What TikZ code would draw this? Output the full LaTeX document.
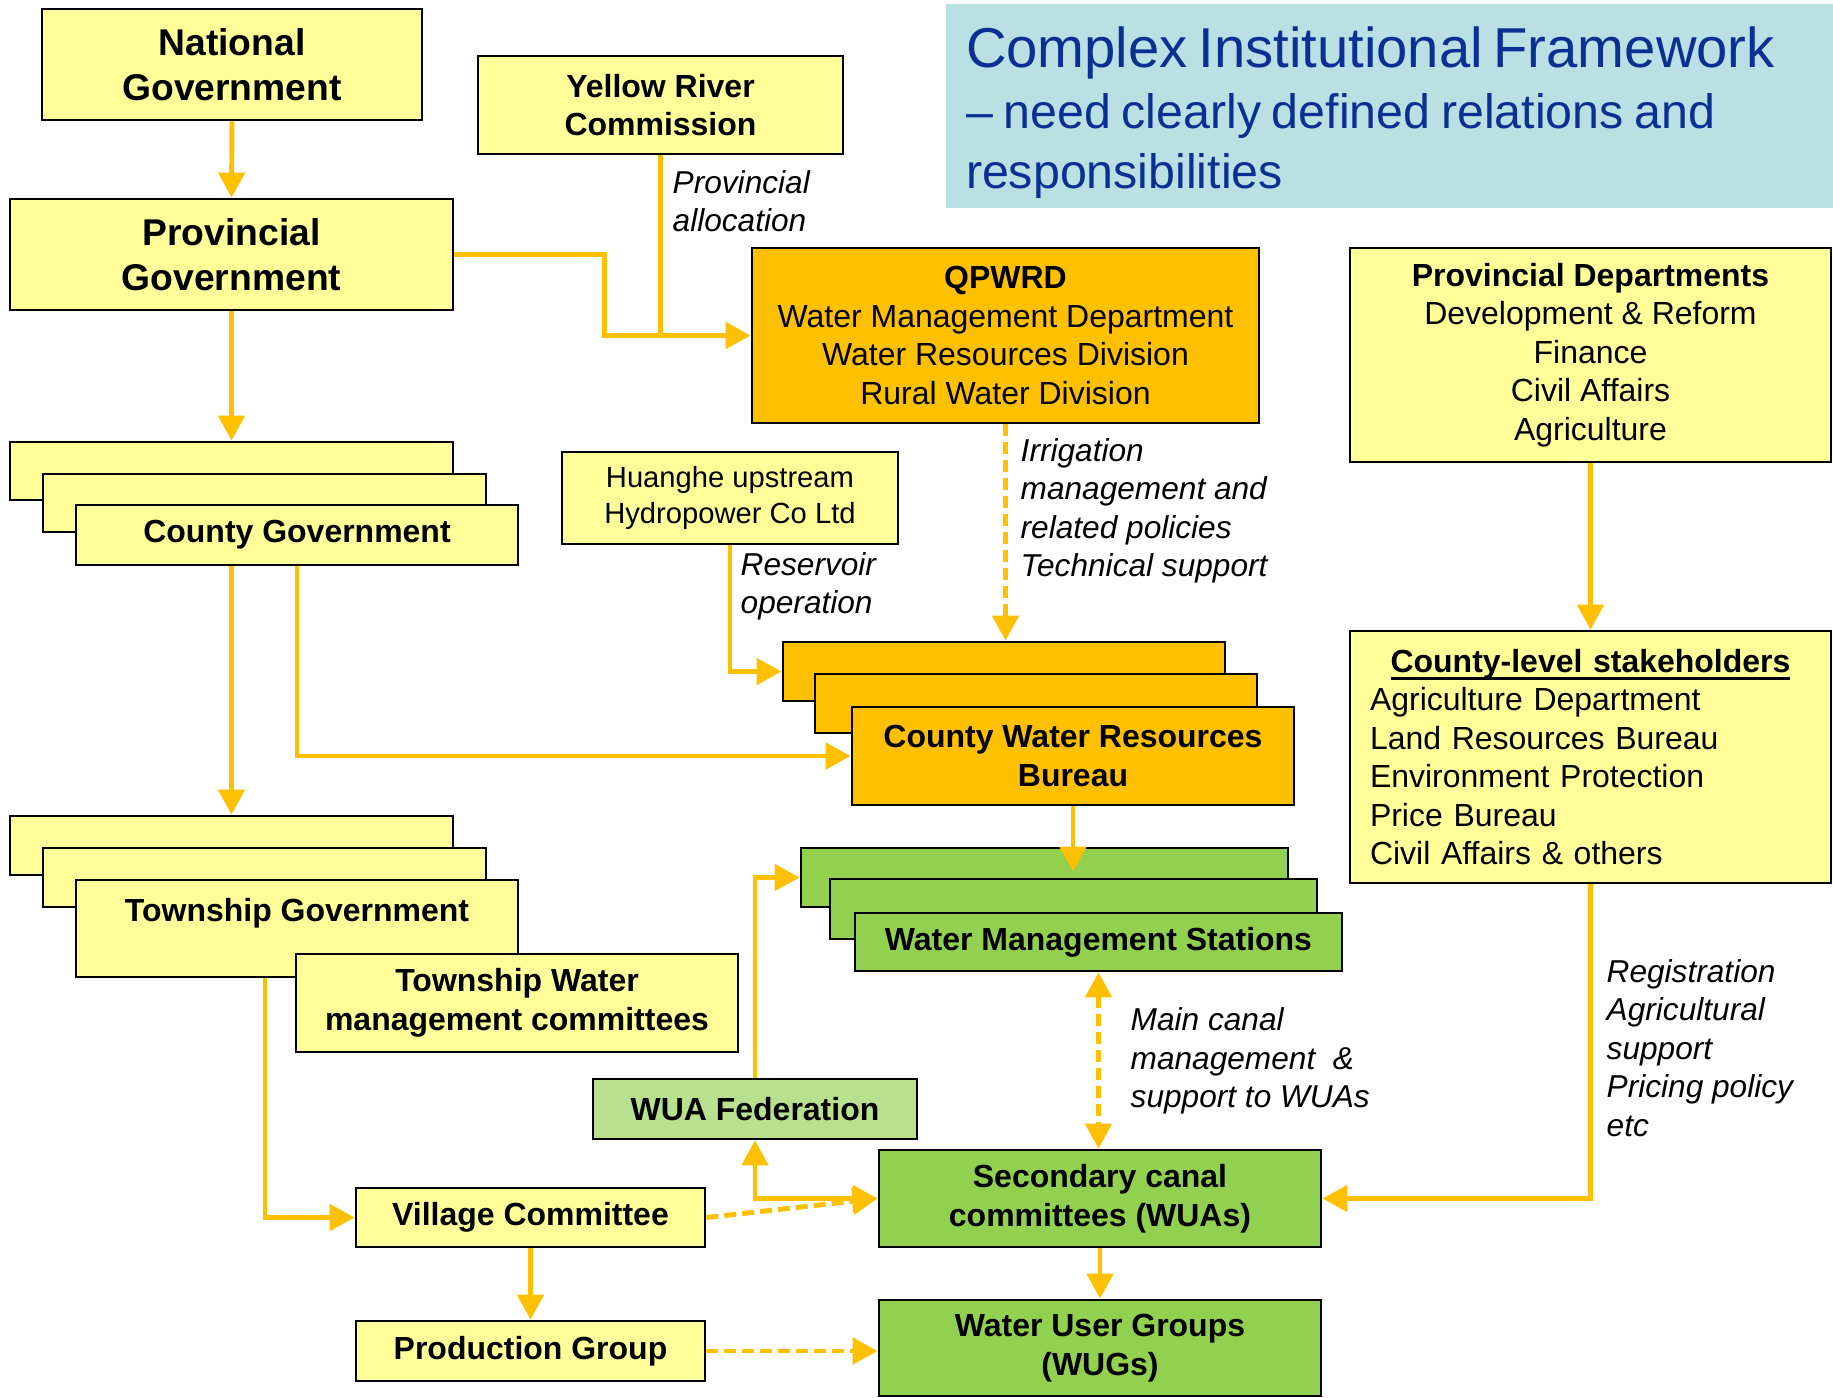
\documentclass[tikz,border=0pt]{standalone}
\usepackage{fontspec}
\setmainfont{Liberation Sans}
\definecolor{boxYellow}{HTML}{FFFF99}
\definecolor{boxOrange}{HTML}{FFC000}
\definecolor{boxGreen}{HTML}{92D050}
\definecolor{boxLightGreen}{HTML}{B9E08F}
\definecolor{lineYellow}{HTML}{FFC000}
\definecolor{titleBlue}{HTML}{0B2F93}
\definecolor{titleBack}{HTML}{B9E0E2}
\usetikzlibrary{arrows.meta,positioning,calc}

\begin{document}
\begin{tikzpicture}[
    x=0.1mm, y=-0.1mm,
    >={Triangle[length=2.5mm,width=2.6mm]},
    every node/.style={font=\fontsize{9.1}{10.95}\selectfont},
    box/.style={draw, line width=0.8pt, align=center, inner sep=0pt},
    ybox/.style={box, fill=boxYellow},
    obox/.style={box, fill=boxOrange},
    gbox/.style={box, fill=boxGreen},
    lgbox/.style={box, fill=boxLightGreen},
    btext/.style={font=\fontsize{9.1}{10.95}\selectfont\bfseries},
    bigtext/.style={font=\fontsize{10.6}{12.8}\selectfont\bfseries},
    lbl/.style={font=\fontsize{9}{10.95}\selectfont\itshape, align=left, anchor=west, inner sep=0pt},
    arr/.style={->, line width=1.4pt, draw=lineYellow},
    darr/.style={arr, dash pattern=on 1.2mm off 0.6mm}
  ]
  \useasboundingbox (0,0) rectangle (1833,1398);

  % title
  \node[fill=titleBack, minimum width=88.7mm, minimum height=20.4mm, text width=84.7mm,
        align=left, inner xsep=2mm, inner ysep=0pt, text=titleBlue] (title) at (1389.5,106)
    {{\fontsize{16}{17.6}\selectfont Complex Institutional Framework\par}%
     {\fontsize{13.75}{17.2}\selectfont – need clearly defined relations and\\responsibilities\par}\vspace{-1.4mm}};

  % provincial level
  \node[ybox, bigtext, minimum width=38mm, minimum height=11.1mm] (nat) at (232,64.5) {National\\Government};
  \node[ybox, btext, minimum width=36.5mm, minimum height=9.8mm] (yrc) at (660.5,105) {Yellow River\\Commission};
  \node[ybox, bigtext, minimum width=44.3mm, minimum height=11.1mm] (prov) at (231.5,254.5) {Provincial\\Government};
  \node[obox, minimum width=50.7mm, minimum height=17.5mm] (qpwrd) at (1005.5,335.5)
    {\textbf{QPWRD}\\Water Management Department\\Water Resources Division\\Rural Water Division};
  \node[ybox, minimum width=48.1mm, minimum height=21.4mm] (pdept) at (1590.5,355)
    {\textbf{Provincial Departments}\\Development \& Reform\\Finance\\Civil Affairs\\Agriculture};

  % county level
  \node[ybox, minimum width=44.3mm, minimum height=5.8mm] (cg3) at (231.5,471) {};
  \node[ybox, minimum width=44.3mm, minimum height=5.8mm] (cg2) at (264.5,503) {};
  \node[ybox, btext, minimum width=44.2mm, minimum height=6mm] (cg) at (297,535) {County Government};
  \node[ybox, font=\fontsize{8.3}{10}\selectfont, minimum width=33.6mm, minimum height=9.2mm] (hh) at (730,498)
    {Huanghe upstream\\Hydropower Co Ltd};
  \node[obox, minimum width=44.2mm, minimum height=5.9mm] (cw3) at (1004,671.5) {};
  \node[obox, minimum width=44.2mm, minimum height=5.9mm] (cw2) at (1036,703.5) {};
  \node[obox, btext, minimum width=44.2mm, minimum height=9.8mm] (cw) at (1073,756) {County Water Resources\\Bureau};
  \node[ybox, minimum width=48.1mm, minimum height=25.2mm, text width=44.1mm, align=left] (cls) at (1590.5,757)
    {\makebox[\linewidth]{\bfseries\setbox0\hbox{County-level stakeholders}\rlap{\rule[-2.3pt]{\wd0}{0.9pt}}\box0}\\Agriculture Department\\Land Resources Bureau\\Environment Protection\\Price Bureau\\Civil Affairs \& others};

  % township level
  \node[ybox, minimum width=44.3mm, minimum height=5.9mm] (tg3) at (231.5,845.5) {};
  \node[ybox, minimum width=44.3mm, minimum height=5.9mm] (tg2) at (264.5,877.5) {};
  \node[ybox, minimum width=44.2mm, minimum height=9.7mm] (tg) at (297,928.5) {};
  \node[btext] (tgname) at (297,913) {Township Government};
  \node[ybox, btext, minimum width=44.2mm, minimum height=9.8mm] (twmc) at (517,1003) {Township Water\\management committees};
  \node[gbox, minimum width=48.7mm, minimum height=5.9mm] (wm3) at (1044.5,877.5) {};
  \node[gbox, minimum width=48.7mm, minimum height=6mm] (wm2) at (1073.5,909) {};
  \node[gbox, btext, minimum width=48.7mm, minimum height=5.8mm] (wm) at (1098.5,942) {Water Management Stations};

  % village level
  \node[lgbox, btext, minimum width=32.4mm, minimum height=6mm] (wuaf) at (755,1109) {WUA Federation};
  \node[gbox, btext, minimum width=44.2mm, minimum height=9.7mm] (sec) at (1100,1198.5) {Secondary canal\\committees (WUAs)};
  \node[gbox, btext, minimum width=44.2mm, minimum height=9.6mm] (wug) at (1100,1348) {Water User Groups\\(WUGs)};
  \node[ybox, btext, minimum width=34.9mm, minimum height=5.9mm] (vil) at (530.5,1217.5) {Village Committee};
  \node[ybox, btext, minimum width=34.9mm, minimum height=6mm] (prod) at (530.5,1351) {Production Group};

  % connectors
  \draw[arr] (nat.south) -- (prov.north);
  \draw[arr] (prov.south) -- (cg3.north);
  \draw[arr] (prov.east) -- ++(150,0) |- (qpwrd.west);
  \draw[line width=1.4pt, lineYellow] (yrc.south) -- (yrc.south |- qpwrd.west);
  \draw[darr] (qpwrd.south) -- (qpwrd.south |- cw3.north);
  \draw[arr] (pdept.south) -- (cls.north);
  \draw[arr] (cls.south) |- (sec.east);
  \draw[arr] (cg.south -| cg3.south) -- (tg3.north);
  \draw[arr] (cg.south) |- (cw.west);
  \draw[arr] (hh.south) |- (cw3.west);
  \draw[arr, shorten >=-2.5mm] (cw.south) -- (cw.south |- wm3.north);
  \draw[arr] ($(tg.south)+(-32,0)$) |- (vil.west);
  \draw[arr] (wuaf.north) |- (wm3.west);
  \draw[arr, <->] (wuaf.south) |- (sec.west);
  \draw[darr] (vil.east) -- (sec.west);
  \draw[arr] (vil.south) -- (prod.north);
  \draw[darr] (prod.east) -- (prod.east -| wug.west);
  \draw[arr] (sec.south) -- (wug.north);
  \draw[darr, <->] (wm.south) -- (wm.south |- sec.north);

  % labels
  \node[lbl] (alloc) at (672,201) {Provincial\\allocation};
  \node[lbl] (resop) at (740,586.5) {Reservoir\\operation};
  \node[lbl] (irrig) at (1020,511) {Irrigation\\management and\\related policies\\Technical support};
  \node[lbl] (canal) at (1130,1061) {Main canal\\management\ \ \&\\support to WUAs};
  \node[lbl] (regis) at (1606,1048) {Registration\\Agricultural\\support\\Pricing policy\\etc};
\end{tikzpicture}
\end{document}
